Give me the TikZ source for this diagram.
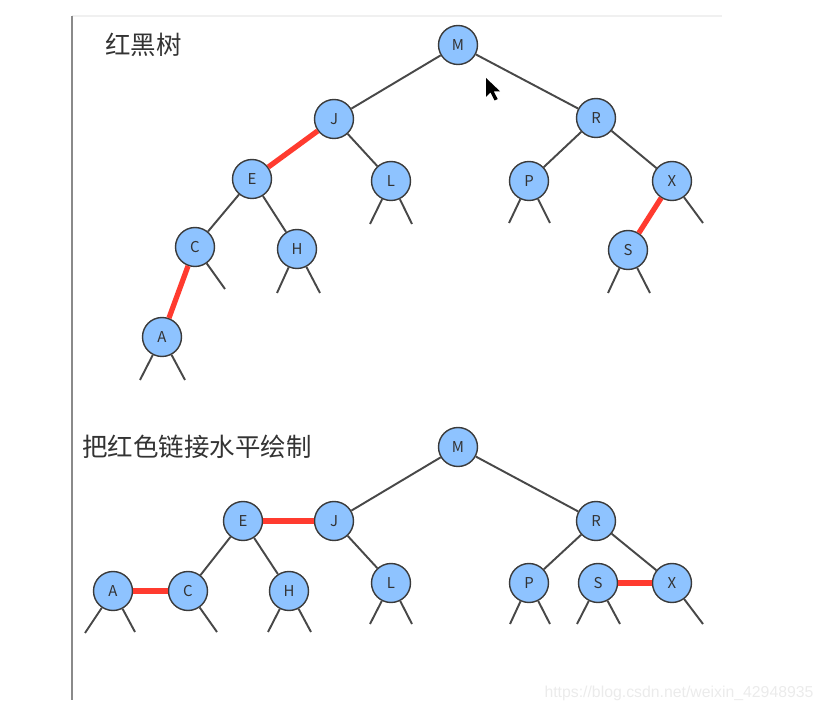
\documentclass[tikz,border=0pt]{standalone}
\usepackage{fontspec}
\setmainfont{Noto Sans CJK SC}
\newfontfamily\wmfont{Liberation Sans}
\definecolor{ink}{HTML}{333333}
\definecolor{bluefill}{HTML}{8EC3FF}
\definecolor{rimc}{HTML}{3A3A3A}
\definecolor{edgec}{HTML}{484848}
\definecolor{redc}{HTML}{FF3B2F}
\definecolor{framec}{HTML}{8A8A8A}

\begin{document}
\begin{tikzpicture}[x=0.02cm, y=-0.02cm,
  knot/.style={circle, draw=rimc, fill=bluefill, line width=0.8pt,
               minimum size=0.78cm, inner sep=0,
               font=\fontsize{8.5}{10}\selectfont, text=ink},
  edge/.style={edgec, line width=1.1pt},
  redlink/.style={redc, line width=3pt}]

\useasboundingbox (0,0) rectangle (825,712);

% ---- page frame
\draw[black!6, line width=0.6pt] (72,16) -- (722,16);
\draw[framec, line width=0.6pt] (72,16) -- (72,700);

% ---- titles
\node[anchor=west, font=\fontsize{14.5}{16}\selectfont, text=ink] (title1)
  at (99,45) {红黑树};
\node[anchor=west, font=\fontsize{14.5}{16}\selectfont, text=ink] (title2)
  at (76,447) {把红色链接水平绘制};

% ---- upper tree
\foreach \n/\x/\y in {M/458/45, J/334/119, R/596/118, E/252/179, L/391/181,
                      P/529/181, X/672/181, C/195/247, H/297/249, S/628/250,
                      A/162/337}{
  \node[knot] (t\n) at (\x,\y) {\n};
}
\foreach \a/\b in {M/J, M/R, J/L, E/H, R/P, R/X, E/C}{
  \draw[edge] (t\a) -- (t\b);
}
\foreach \a/\b in {J/E, X/S, C/A}{
  \draw[redlink] (t\a) -- (t\b);
}
% null links
\foreach \n/\dx/\dy in {L/-21/43, L/21/43, P/-20/42, P/21/42, X/31/42,
                        S/-20/43, S/22/43, C/30/42, H/-20/44, H/23/44,
                        A/-22/43, A/23/43}{
  \path (t\n) ++(\dx,\dy) coordinate (t\n\dx);
  \draw[edge] (t\n) -- (t\n\dx);
}

% ---- lower tree, red links laid flat
\foreach \n/\x/\y in {M/458/447, E/243/521, J/334/521, R/596/521, A/113/591,
                      C/188/591, H/289/591, L/391/583, P/529/583, S/598/583,
                      X/672/583}{
  \node[knot] (b\n) at (\x,\y) {\n};
}
\foreach \a/\b in {M/J, M/R, J/L, E/C, E/H, R/P, R/X}{
  \draw[edge] (b\a) -- (b\b);
}
\foreach \a/\b in {E/J, A/C, S/X}{
  \draw[redlink] (b\a) -- (b\b);
}
\foreach \n/\dx/\dy in {A/-28/42, A/22/41, C/29/41, H/-21/41, H/22/41,
                        L/-21/41, L/21/41, P/-19/41, P/21/41, S/-21/41,
                        S/22/41, X/31/41}{
  \path (b\n) ++(\dx,\dy) coordinate (b\n\dx);
  \draw[edge] (b\n) -- (b\n\dx);
}

% ---- mouse pointer
\fill[black] (486,78) -- ++(0,19) -- ++(4.5,-4.5) -- ++(4,8) -- ++(3.2,-1.4)
  -- ++(-4,-7.8) -- ++(6.3,0) -- cycle;

% ---- watermark
\node[font=\wmfont\fontsize{9}{11}\selectfont, text=black!8] (wm)
  at (679,693) {https://blog.csdn.net/weixin\_42948935};

\end{tikzpicture}
\end{document}
